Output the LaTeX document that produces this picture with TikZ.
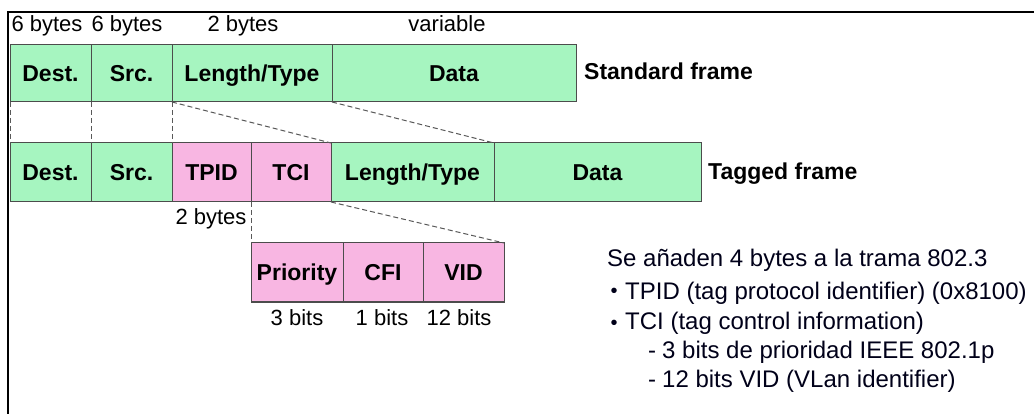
\documentclass[tikz,border=0pt]{standalone}
\usepackage{fontspec}
\setmainfont{Liberation Sans}
\definecolor{mint}{HTML}{A6F5C0}
\definecolor{pinkc}{HTML}{F8B6E2}
\begin{document}
\begin{tikzpicture}[x=1pt,y=-1pt,
  cell/.style={draw=black!70, line width=1pt, outer sep=0pt, inner sep=0pt,
    anchor=north west, font=\fontsize{23}{26}\selectfont\bfseries,
    text height=16.4pt, text depth=0pt},
  gcell/.style={cell, fill=mint},
  pcell/.style={cell, fill=pinkc},
  lbl/.style={font=\fontsize{22}{26}\selectfont, anchor=base, inner sep=0pt},
  title/.style={font=\fontsize{23}{26}\selectfont\bfseries, anchor=base west, inner sep=0pt},
  note/.style={font=\fontsize{24}{28}\selectfont, anchor=base west, inner sep=0pt, text=black!90!blue},
  dashline/.style={draw=black!65, line width=1pt, dash pattern=on 5pt off 3pt}]
\useasboundingbox (0,0) rectangle (1034,414);
\fill[white] (0,0) rectangle (1034,414);
% border
\draw[line width=2pt] (7.5,414) -- (7.5,12.5) -- (1034,12.5);
% row 1
\node[gcell, minimum width=81pt, minimum height=57pt] (d1) at (10,45) {Dest.};
\node[gcell, minimum width=81pt, minimum height=57pt] (s1) at (91,45) {Src.};
\node[gcell, minimum width=160pt, minimum height=57pt] (l1) at (172,45) {Length/Type};
\node[gcell, minimum width=244pt, minimum height=57pt] (da1) at (332,45) {Data};
% row 2
\node[gcell, minimum width=81pt, minimum height=59pt] (d2) at (10,143) {Dest.};
\node[gcell, minimum width=81pt, minimum height=59pt] (s2) at (91,143) {Src.};
\node[pcell, minimum width=79pt, minimum height=59pt] (tp) at (172,143) {TPID};
\node[pcell, minimum width=80pt, minimum height=59pt] (tc) at (251,143) {TCI};
\node[gcell, minimum width=163pt, minimum height=59pt] (l2) at (331,143) {Length/Type};
\node[gcell, minimum width=207pt, minimum height=59pt] (da2) at (494,143) {Data};
% row 3
\node[pcell, minimum width=92pt, minimum height=59pt] (pr) at (251,243) {Priority};
\node[pcell, minimum width=80pt, minimum height=59pt] (cf) at (343,243) {CFI};
\node[pcell, minimum width=81pt, minimum height=59pt] (vd) at (423,243) {VID};
% dashed connectors
\draw[dashline] (d1.south west) -- (d2.north west);
\draw[dashline] (s1.south west) -- (s2.north west);
\draw[dashline] (l1.south west) -- (tp.north west);
\draw[dashline] (l1.south west) -- (l2.north west);
\draw[dashline] (da1.south west) -- (da2.north west);
\draw[dashline] (tc.south west) -- (pr.north west);
\draw[dashline] (tc.south east) -- (vd.north east);
% size labels
\node[lbl] (b1) at (47,32) {6 bytes};
\node[lbl] (b2) at (127,32) {6 bytes};
\node[lbl] (b3) at (243,32) {2 bytes};
\node[lbl] (b4) at (447,32) {variable};
\node[lbl] (b5) at (211,225) {2 bytes};
\node[lbl] (t1) at (297,326) {3 bits};
\node[lbl] (t2) at (382,326) {1 bits};
\node[lbl] (t3) at (459,326) {12 bits};
% frame titles
\node[title] (std) at (584,80) {Standard frame};
\node[title] (tag) at (708,180) {Tagged frame};
% notes
\node[note] (n0) at (607,267) {Se añaden 4 bytes a la trama 802.3};
\node[note, font=\fontsize{20}{22}\selectfont, anchor=base] (k1) at (614,298) {\textbullet};
\node[note] (n1) at (625,299) {TPID (tag protocol identifier) (0x8100)};
\node[note, font=\fontsize{20}{22}\selectfont, anchor=base] (k2) at (614,329) {\textbullet};
\node[note] (n2) at (625,330) {TCI (tag control information)};
\node[note, anchor=base] (k3) at (652,358) {-};
\node[note] (n3) at (662,358) {3 bits de prioridad IEEE 802.1p};
\node[note, anchor=base] (k4) at (652,387) {-};
\node[note] (n4) at (662,387) {12 bits VID (VLan identifier)};
\end{tikzpicture}
\end{document}
